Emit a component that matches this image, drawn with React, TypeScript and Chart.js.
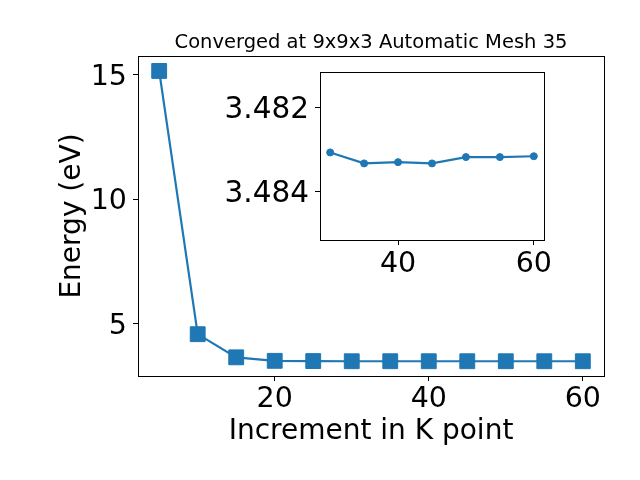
import React, { useEffect, useRef } from "react";
import { Chart, registerables } from "chart.js";

Chart.register(...registerables);

const kPoints = [5, 10, 15, 20, 25, 30, 35, 40, 45, 50, 55, 60];
const energies = [15.15, 4.57, 3.64, 3.5, 3.49, 3.48307, 3.48333, 3.4833, 3.48333, 3.48318, 3.48318, 3.48316];
const insetK = [30, 35, 40, 45, 50, 55, 60];
const insetEnergies = [3.48307, 3.48333, 3.4833, 3.48333, 3.48318, 3.48318, 3.48316];
const mainXTicks = [20, 40, 60];
const mainYTicks = [5, 10, 15];
const insetXTicks = [40, 60];
const insetYTicks = [3.482, 3.484];
const titleText = "Converged at 9x9x3 Automatic Mesh 35";
const xLabel = "Increment in K point";
const yLabel = "Energy (eV)";

const BLUE = "#1f77b4";
const FONT = "'DejaVu Sans', sans-serif";

const boxPlugin = {
  id: "box",
  beforeDatasetsDraw(chart: any) {
    const { ctx, chartArea } = chart;
    ctx.save();
    ctx.strokeStyle = "#000";
    ctx.lineWidth = 1;
    ctx.strokeRect(
      Math.round(chartArea.left) + 0.5,
      Math.round(chartArea.top) + 0.5,
      Math.round(chartArea.right) - Math.round(chartArea.left),
      Math.round(chartArea.bottom) - Math.round(chartArea.top)
    );
    ctx.restore();
  },
};

const whiteBg = {
  id: "whiteBg",
  beforeDraw(chart: any) {
    const { ctx, chartArea } = chart;
    ctx.save();
    ctx.fillStyle = "#fff";
    ctx.fillRect(chartArea.left, chartArea.top, chartArea.right - chartArea.left, chartArea.bottom - chartArea.top);
    ctx.restore();
  },
};

const tickGrid = { drawOnChartArea: false, drawTicks: true, tickLength: 5, color: "#000", lineWidth: 1 };

function axis(opts: any) {
  const { min, max, ticks, fit, isX, fmt, title, tickPad, reverse, fontSize, labelOffset } = opts;
  const cfg: any = {
    type: "linear",
    min,
    max,
    reverse: !!reverse,
    afterBuildTicks: (s: any) => {
      s.ticks = ticks.map((v: number) => ({ value: v }));
    },
    afterFit: (s: any) => {
      if (isX) s.height = fit;
      else s.width = fit;
      s.paddingTop = 0;
      s.paddingBottom = 0;
      s.paddingLeft = 0;
      s.paddingRight = 0;
    },
    grid: tickGrid,
    border: { display: false },
    ticks: {
      font: { family: FONT, size: fontSize || 28.5 },
      color: "#000",
      padding: tickPad,
      labelOffset: labelOffset || 0,
      maxRotation: 0,
      minRotation: 0,
      autoSkip: false,
      callback: fmt,
    },
  };
  if (title) cfg.title = title;
  return cfg;
}

function MainChart() {
  const ref = useRef<HTMLCanvasElement>(null);
  useEffect(() => {
    const chart = new Chart(ref.current as HTMLCanvasElement, {
      type: "line",
      data: {
        datasets: [
          {
            data: kPoints.map((k, i) => ({ x: k, y: energies[i] })),
            borderColor: BLUE,
            backgroundColor: BLUE,
            borderWidth: 2.2,
            pointStyle: "rect",
            pointRadius: 10.5,
            pointBorderWidth: 1,
            pointBackgroundColor: BLUE,
            pointBorderColor: BLUE,
            tension: 0,
            clip: false,
          } as any,
        ],
      },
      options: {
        responsive: false,
        animation: false,
        devicePixelRatio: 1,
        layout: { padding: { left: 0, right: 36, top: 0, bottom: 0 } },
        plugins: {
          legend: { display: false },
          tooltip: { enabled: false },
          title: {
            display: true,
            text: titleText,
            fullSize: false,
            color: "#000",
            font: { family: FONT, size: 19.5, weight: "normal" },
            padding: { top: 31.5, bottom: 1.1 },
          } as any,
        },
        scales: {
          x: axis({
            min: 2.25,
            max: 62.75,
            ticks: mainXTicks,
            fit: 104,
            isX: true,
            tickPad: 1,
            fmt: (v: any) => String(v),
            title: {
              display: true,
              text: xLabel,
              color: "#000",
              font: { family: FONT, size: 28 },
              padding: { top: 0, bottom: 31.4 },
            },
          }),
          y: axis({
            min: 2.89,
            max: 15.75,
            ticks: mainYTicks,
            fit: 138,
            isX: false,
            tickPad: 6,
            labelOffset: 3,
            fmt: (v: any) => String(v),
            title: {
              display: true,
              text: yLabel,
              color: "#000",
              font: { family: FONT, size: 28 },
              padding: { top: 56, bottom: 0 },
            },
          }),
        },
      } as any,
      plugins: [boxPlugin],
    });
    return () => chart.destroy();
  }, []);
  return <canvas ref={ref} width={640} height={480} style={{ position: "absolute", left: 0, top: 0 }} />;
}

function InsetChart() {
  const ref = useRef<HTMLCanvasElement>(null);
  useEffect(() => {
    const chart = new Chart(ref.current as HTMLCanvasElement, {
      type: "line",
      data: {
        datasets: [
          {
            data: insetK.map((k, i) => ({ x: k, y: insetEnergies[i] })),
            borderColor: BLUE,
            backgroundColor: BLUE,
            borderWidth: 2.2,
            pointStyle: "circle",
            pointRadius: 3.5,
            pointBorderWidth: 1,
            pointBackgroundColor: BLUE,
            pointBorderColor: BLUE,
            tension: 0,
          } as any,
        ],
      },
      options: {
        responsive: false,
        animation: false,
        devicePixelRatio: 1,
        layout: { padding: { left: 0, right: 26, top: 16, bottom: 0 } },
        plugins: {
          legend: { display: false },
          tooltip: { enabled: false },
          title: { display: false },
        },
        scales: {
          x: axis({
            min: 28.5,
            max: 61.5,
            ticks: insetXTicks,
            fit: 60,
            isX: true,
            tickPad: 2,
            fmt: (v: any) => String(v),
          }),
          y: axis({
            min: 3.481164,
            max: 3.485145,
            reverse: true,
            ticks: insetYTicks,
            fit: 120,
            isX: false,
            tickPad: 6,
            labelOffset: 3,
            fontSize: 29.5,
            fmt: (v: any) => Number(v).toFixed(3),
          }),
        },
      } as any,
      plugins: [whiteBg, boxPlugin],
    });
    return () => chart.destroy();
  }, []);
  return <canvas ref={ref} width={370} height={244} style={{ position: "absolute", left: 200, top: 56 }} />;
}

export default function App() {
  return (
    <div style={{ position: "fixed", left: 0, top: 0, width: 640, height: 480, background: "#fff" }}>
      <MainChart />
      <InsetChart />
    </div>
  );
}
